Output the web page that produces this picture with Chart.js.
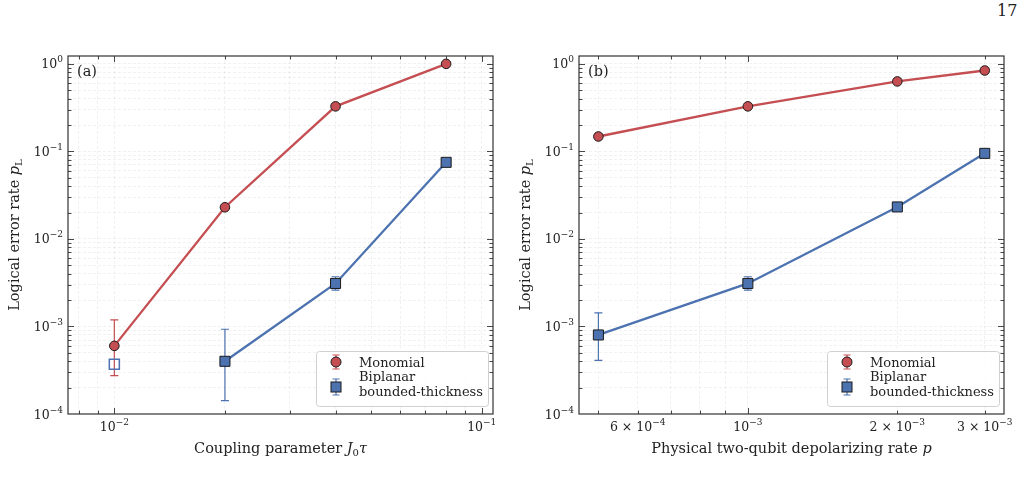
<!DOCTYPE html>
<html lang="en">
<head>
<meta charset="UTF-8">
<title>Logical error rate: Monomial vs Biplanar bounded-thickness</title>
<script src="https://cdn.jsdelivr.net/npm/chart.js"></script>
<style>
  body {
    margin: 0;
    background: #fff;
    width: 1025px;
    height: 489px;
    overflow: hidden;
    position: relative;
    font-family: 'DejaVu Serif', serif;
  }
  canvas { position: absolute; top: 0; }
  #left { left: 0; }
  #right { left: 512px; }
  .pagenum {
    position: absolute;
    left: 997px;
    top: 1px;
    font-size: 16px;
    color: #222;
  }
</style>
</head>
<body>
<div class="pagenum">17</div>
<canvas id="left" width="512" height="489"></canvas>
<canvas id="right" width="513" height="489"></canvas>

<script>
// ---- panel (a): vs coupling parameter J0*tau ----
const couplingX = [0.01, 0.02, 0.04, 0.08];
const monoA      = [6.0e-4, 0.023, 0.327, 1.0];
const monoAErrLo = [2.74e-4, null, null, null];
const monoAErrHi = [1.19e-3, null, null, null];
const biA        = [null, 4.0e-4, 3.1e-3, 0.075];
const biAErrLo   = [null, 1.42e-4, 2.6e-3, null];
const biAErrHi   = [null, 9.3e-4, 3.7e-3, null];
const biAOpenX   = [0.01];      // hollow marker, not joined to the line
const biAOpen    = [3.7e-4];

// ---- panel (b): vs physical two-qubit depolarizing rate p ----
const depolX = [5e-4, 1e-3, 2e-3, 3e-3];
const monoB      = [0.148, 0.327, 0.63, 0.84];
const biB        = [8.0e-4, 3.1e-3, 0.0232, 0.095];
const biBErrLo   = [4.1e-4, 2.6e-3, null, null];
const biBErrHi   = [1.43e-3, 3.7e-3, null, null];

// ---- tick labels ----
const yTickVals = [1e-4, 1e-3, 1e-2, 1e-1, 1];
const yTickExp  = ['−4', '−3', '−2', '−1', '0'];
const xTickValsA = [0.01, 0.1];
const xTickMantA = ['', ''];
const xTickExpA  = ['−2', '−1'];
const xTickValsB = [6e-4, 1e-3, 2e-3, 3e-3];
const xTickMantB = ['6 × ', '', '2 × ', '3 × '];
const xTickExpB  = ['−4', '−3', '−3', '−3'];

const seriesNames = ['Monomial', 'Biplanar', 'bounded-thickness'];

const RED = '#c44e52';
const BLUE = '#4c72b0';
const SERIF = "'DejaVu Serif', serif";

function pts(xs, ys) {
  return xs.map((x, i) => ({ x: x, y: ys[i] })).filter(p => p.y !== null);
}

function logGrid(min, max) {
  const vals = [];
  for (let e = Math.floor(Math.log10(min)); e <= Math.ceil(Math.log10(max)); e++) {
    for (let m = 1; m <= 9; m++) {
      const v = +(m * Math.pow(10, e)).toPrecision(3);
      if (v > min * 1.0001 && v < max * 0.9999) vals.push(v);
    }
  }
  return vals;
}

function isMajor(v) {
  const l = Math.log10(v);
  return Math.abs(l - Math.round(l)) < 1e-6;
}

// parts: [text, font, dy]
function drawRich(ctx, parts, x, y, align) {
  let w = 0;
  parts.forEach(p => { ctx.font = p[1]; w += ctx.measureText(p[0]).width; });
  let cx = align === 'center' ? x - w / 2 : align === 'right' ? x - w : x;
  ctx.textAlign = 'left';
  ctx.textBaseline = 'alphabetic';
  parts.forEach(p => {
    ctx.font = p[1];
    ctx.fillText(p[0], cx, y + (p[2] || 0));
    cx += ctx.measureText(p[0]).width;
  });
}

function powLabel(mant, exp) {
  const parts = [];
  if (mant) parts.push([mant, '12.5px ' + SERIF, 0]);
  parts.push(['10', '12.5px ' + SERIF, 0]);
  parts.push([exp, '9px ' + SERIF, -6]);
  return parts;
}

function drawErrorBars(chart, xs, lo, hi, color) {
  const ctx = chart.ctx, xs_ = chart.scales.x, ys = chart.scales.y;
  ctx.save();
  ctx.strokeStyle = color;
  ctx.lineWidth = 1.2;
  xs.forEach((x, i) => {
    if (lo[i] === null || hi[i] === null) return;
    const px = xs_.getPixelForValue(x);
    const y1 = ys.getPixelForValue(lo[i]);
    const y2 = ys.getPixelForValue(hi[i]);
    ctx.beginPath();
    ctx.moveTo(px, y1); ctx.lineTo(px, y2);
    ctx.moveTo(px - 4, y1); ctx.lineTo(px + 4, y1);
    ctx.moveTo(px - 4, y2); ctx.lineTo(px + 4, y2);
    ctx.stroke();
  });
  ctx.restore();
}

function drawLegend(ctx, area) {
  const w = 172, h = 55;
  const bx = area.right - 5 - w, by = area.bottom - 8 - h;
  ctx.save();
  ctx.fillStyle = 'rgba(255,255,255,0.85)';
  ctx.strokeStyle = '#d0d0d0';
  ctx.lineWidth = 1;
  ctx.beginPath();
  ctx.roundRect(bx + 0.5, by + 0.5, w, h, 3);
  ctx.fill();
  ctx.stroke();

  const mx = bx + 20;
  // Monomial handle
  let my = by + 11;
  ctx.strokeStyle = RED; ctx.lineWidth = 1.2;
  ctx.beginPath();
  ctx.moveTo(mx, my - 7); ctx.lineTo(mx, my + 7);
  ctx.moveTo(mx - 3.5, my - 7); ctx.lineTo(mx + 3.5, my - 7);
  ctx.moveTo(mx - 3.5, my + 7); ctx.lineTo(mx + 3.5, my + 7);
  ctx.stroke();
  ctx.fillStyle = RED; ctx.strokeStyle = '#1a1a1a'; ctx.lineWidth = 1;
  ctx.beginPath(); ctx.arc(mx, my, 5, 0, Math.PI * 2); ctx.fill(); ctx.stroke();

  // Biplanar handle
  my = by + 36;
  ctx.strokeStyle = BLUE; ctx.lineWidth = 1.2;
  ctx.beginPath();
  ctx.moveTo(mx, my - 8); ctx.lineTo(mx, my + 8);
  ctx.moveTo(mx - 3.5, my - 8); ctx.lineTo(mx + 3.5, my - 8);
  ctx.moveTo(mx - 3.5, my + 8); ctx.lineTo(mx + 3.5, my + 8);
  ctx.stroke();
  ctx.fillStyle = BLUE; ctx.strokeStyle = '#1a1a1a'; ctx.lineWidth = 1;
  ctx.fillRect(mx - 5, my - 5, 10, 10);
  ctx.strokeRect(mx - 5, my - 5, 10, 10);

  ctx.fillStyle = '#222';
  ctx.font = '13px ' + SERIF;
  ctx.textAlign = 'left';
  ctx.textBaseline = 'alphabetic';
  ctx.fillText(seriesNames[0], bx + 43, by + 16);
  ctx.fillText(seriesNames[1], bx + 43, by + 30);
  ctx.fillText(seriesNames[2], bx + 43, by + 45);
  ctx.restore();
}

function makePanel(id, p) {
  const xGrid = logGrid(p.xMin, p.xMax);
  const yGrid = logGrid(p.yMin, p.yMax);

  const framePlugin = {
    id: 'frame',
    beforeDatasetsDraw(chart) {
      p.errors.forEach(e => drawErrorBars(chart, e.xs, e.lo, e.hi, e.color));
    },
    afterDraw(chart) {
      const ctx = chart.ctx, a = chart.chartArea;
      const sx = chart.scales.x, sy = chart.scales.y;
      ctx.save();
      // frame
      ctx.strokeStyle = '#333';
      ctx.lineWidth = 1.2;
      ctx.strokeRect(a.left, a.top, a.right - a.left, a.bottom - a.top);
      // inward ticks on all four sides
      ctx.lineWidth = 0.9;
      ctx.beginPath();
      xGrid.forEach(v => {
        const px = Math.round(sx.getPixelForValue(v)) + 0.5;
        const len = isMajor(v) ? 6 : 3.5;
        ctx.moveTo(px, a.bottom); ctx.lineTo(px, a.bottom - len);
        ctx.moveTo(px, a.top); ctx.lineTo(px, a.top + len);
      });
      yGrid.forEach(v => {
        const py = Math.round(sy.getPixelForValue(v)) + 0.5;
        const len = isMajor(v) ? 6 : 3.5;
        ctx.moveTo(a.left, py); ctx.lineTo(a.left + len, py);
        ctx.moveTo(a.right, py); ctx.lineTo(a.right - len, py);
      });
      ctx.stroke();

      // tick labels
      ctx.fillStyle = '#222';
      yTickVals.forEach((v, i) => {
        drawRich(ctx, powLabel('', yTickExp[i]), a.left - 5, sy.getPixelForValue(v) + 4.5, 'right');
      });
      p.xTickVals.forEach((v, i) => {
        drawRich(ctx, powLabel(p.xTickMant[i], p.xTickExp[i]), sx.getPixelForValue(v), a.bottom + 17, 'center');
      });

      // axis titles
      const tf = '14.5px ' + SERIF, tfi = 'italic 14.5px ' + SERIF, sf = '10px ' + SERIF;
      drawRich(ctx, p.xTitle(tf, tfi, sf), (a.left + a.right) / 2, a.bottom + 39, 'center');
      ctx.save();
      ctx.translate(a.left - 49.5, (a.top + a.bottom) / 2);
      ctx.rotate(-Math.PI / 2);
      drawRich(ctx, [['Logical error rate ', tf, 0], ['p', tfi, 0], ['L', sf, 3]], 0, 0, 'center');
      ctx.restore();

      // panel tag
      ctx.font = '14.5px ' + SERIF;
      ctx.textAlign = 'left';
      ctx.fillText(p.tag, a.left + 9, a.top + 20);
      ctx.restore();

      drawLegend(ctx, a);
    }
  };

  const axisCommon = {
    type: 'logarithmic',
    ticks: { display: false },
    grid: { color: 'rgba(0,0,0,0.07)', lineWidth: 0.8, drawTicks: false },
    border: { display: false, dash: [3, 2] }
  };

  return new Chart(document.getElementById(id), {
    type: 'line',
    data: { datasets: p.datasets },
    options: {
      responsive: false,
      animation: false,
      devicePixelRatio: 1,
      layout: { padding: { left: 0, top: 56, right: p.padRight, bottom: 0 } },
      plugins: { legend: { display: false }, tooltip: { enabled: false } },
      scales: {
        x: Object.assign({}, axisCommon, {
          min: p.xMin, max: p.xMax,
          afterBuildTicks: s => { s.ticks = xGrid.map(v => ({ value: v })); },
          afterFit: s => { s.height = 75; }
        }),
        y: Object.assign({}, axisCommon, {
          min: p.yMin, max: p.yMax,
          afterBuildTicks: s => { s.ticks = yGrid.map(v => ({ value: v })); },
          afterFit: s => { s.width = p.yWidth; }
        })
      }
    },
    plugins: [framePlugin]
  });
}

function lineSet(label, data, color, style, radius) {
  return {
    label: label,
    data: data,
    borderColor: color,
    borderWidth: 2.3,
    tension: 0,
    pointStyle: style,
    pointRadius: radius,
    pointBackgroundColor: color,
    pointBorderColor: '#1a1a1a',
    pointBorderWidth: 1
  };
}

makePanel('left', {
  tag: '(a)',
  xMin: 7.48e-3, xMax: 0.1073, yMin: 1e-4, yMax: 1.23,
  padRight: 19, yWidth: 68,
  xTickVals: xTickValsA, xTickMant: xTickMantA, xTickExp: xTickExpA,
  xTitle: (tf, tfi, sf) => [['Coupling parameter ', tf, 0], ['J', tfi, 0], ['0', sf, 3], ['τ', tfi, 0]],
  errors: [
    { xs: couplingX, lo: monoAErrLo, hi: monoAErrHi, color: RED },
    { xs: couplingX, lo: biAErrLo, hi: biAErrHi, color: BLUE }
  ],
  datasets: [
    lineSet('Biplanar bounded-thickness', pts(couplingX, biA), BLUE, 'rect', 7.1),
    {
      label: 'Biplanar (open)',
      data: pts(biAOpenX, biAOpen),
      showLine: false,
      pointStyle: 'rect',
      pointRadius: 7.1,
      pointBackgroundColor: 'rgba(255,255,255,0)',
      pointBorderColor: BLUE,
      pointBorderWidth: 1.5
    },
    lineSet('Monomial', pts(couplingX, monoA), RED, 'circle', 4.8)
  ]
});

makePanel('right', {
  tag: '(b)',
  xMin: 4.57e-4, xMax: 3.28e-3, yMin: 1e-4, yMax: 1.23,
  padRight: 21, yWidth: 67,
  xTickVals: xTickValsB, xTickMant: xTickMantB, xTickExp: xTickExpB,
  xTitle: (tf, tfi) => [['Physical two-qubit depolarizing rate ', tf, 0], ['p', tfi, 0]],
  errors: [
    { xs: depolX, lo: biBErrLo, hi: biBErrHi, color: BLUE }
  ],
  datasets: [
    lineSet('Biplanar bounded-thickness', pts(depolX, biB), BLUE, 'rect', 7.1),
    lineSet('Monomial', pts(depolX, monoB), RED, 'circle', 4.8)
  ]
});
</script>
</body>
</html>
